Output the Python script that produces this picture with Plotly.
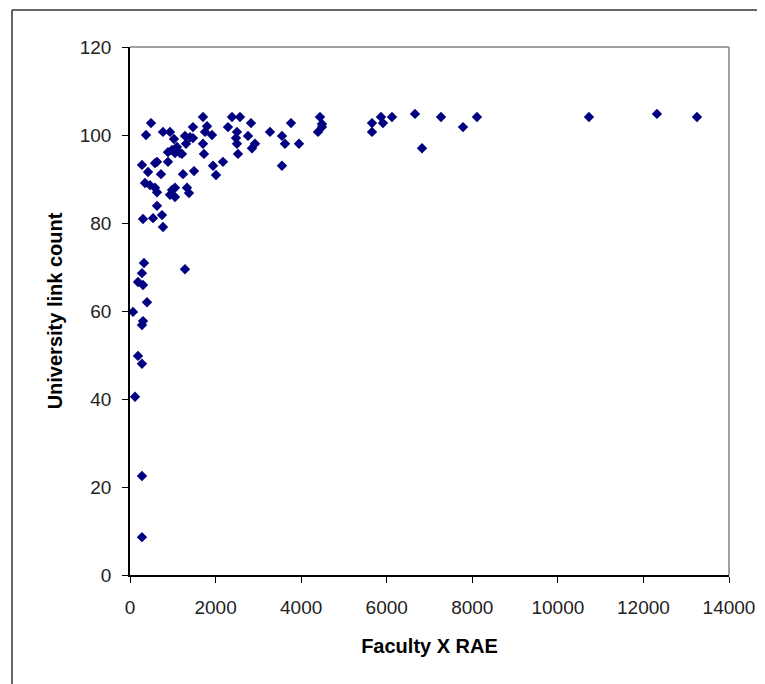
import plotly.graph_objects as go

# Faculty x RAE score vs university link count
faculty_rae = [280, 280, 117, 280, 187, 280, 304, 70, 397, 304,
               187, 280, 327, 1285, 304, 538, 748, 771, 631, 351,
               467, 584, 631, 982, 935, 1052, 1052, 1332, 1379, 280,
               421, 584, 631, 724, 888, 1239, 1496, 888, 982, 1052,
               1098, 1169, 1028, 771, 935, 491, 374, 1285, 1402, 1472,
               1472, 1706, 1800, 1753, 1916, 1309, 1706, 1729, 1940, 2173,
               2010, 2384, 2571, 2290, 2500, 2477, 2500, 2524, 2758, 2828,
               2921, 2851, 3272, 3552, 3622, 3763, 3950, 3552, 4440, 4487,
               4394, 4487, 5656, 5656, 5866, 5913, 6123, 6661, 6825, 7269,
               7783, 8110, 10727, 12316, 13251, 1215]
link_count = [8.6, 22.5, 40.5, 48.0, 49.8, 56.8, 57.7, 59.8, 62.0, 65.9,
              66.6, 68.6, 70.9, 69.5, 80.9, 81.1, 81.8, 79.1, 83.9, 89.1,
              88.6, 88.0, 87.0, 87.5, 86.4, 88.0, 85.9, 88.0, 86.8, 93.2,
              91.6, 93.6, 93.9, 91.1, 93.9, 91.1, 91.8, 96.1, 96.6, 95.9,
              97.3, 95.9, 99.1, 100.7, 100.7, 102.7, 100.0, 99.8, 99.5, 99.3,
              101.8, 104.1, 102.0, 100.7, 100.0, 98.0, 98.0, 95.7, 93.0, 93.9,
              90.9, 104.1, 104.1, 101.8, 100.7, 99.3, 98.0, 95.7, 99.8, 102.7,
              98.0, 97.0, 100.7, 99.8, 98.0, 102.7, 98.0, 93.0, 104.1, 101.8,
              100.7, 102.5, 102.7, 100.7, 104.1, 102.7, 104.1, 104.8, 97.0, 104.1,
              101.8, 104.1, 104.1, 104.8, 104.1, 95.7]

x_ticks = [0, 2000, 4000, 6000, 8000, 10000, 12000, 14000]
x_labels = ['0', '2000', '4000', '6000', '8000', '10000', '12000', '14000']
y_ticks = [0, 20, 40, 60, 80, 100, 120]

fig = go.Figure(go.Scatter(x=faculty_rae, y=link_count,
                           mode='markers',
                           marker=dict(symbol='diamond', size=8,
                                       color='#000080'),
                           cliponaxis=False))

tick_font = dict(family='Liberation Sans', size=19, color='#222222')
title_font = dict(family='Liberation Sans', size=20, color='#000000')

# page body adds an 8px offset, so margins are shifted to compensate
fig.update_layout(
    width=765, height=684,
    margin=dict(l=122, r=44, t=39, b=117),
    paper_bgcolor='white', plot_bgcolor='white',
    showlegend=False,
    xaxis=dict(range=[0, 14000], tickvals=x_ticks, ticktext=x_labels,
               showgrid=False, zeroline=False, showline=True,
               linecolor='black', linewidth=1.5,
               ticks='outside', ticklen=6, tickcolor='black',
               ticklabelstandoff=8, tickfont=tick_font,
               title=dict(text='<b>Faculty X RAE</b>', font=title_font,
                          standoff=22)),
    yaxis=dict(range=[0, 120], tickvals=y_ticks, showgrid=False,
               zeroline=False, showline=True, linecolor='black', linewidth=1.5,
               ticks='outside', ticklen=6, tickcolor='black',
               ticklabelstandoff=7, tickfont=tick_font,
               title=dict(text='<b>University link count</b>', font=title_font,
                          standoff=12)),
)

# grey frame on top and right of plot area
fig.add_shape(type='line', xref='paper', yref='paper', x0=0, y0=1, x1=1, y1=1,
              line=dict(color='#a0a0a0', width=2))
fig.add_shape(type='line', xref='paper', yref='paper', x0=1, y0=1, x1=1, y1=0,
              line=dict(color='#a0a0a0', width=2))
# outer chart border (left and top edges visible)
fig.add_shape(type='line', xref='paper', yref='paper',
              x0=-0.197, y0=1.07, x1=1.1, y1=1.07,
              line=dict(color='#333333', width=1.5))
fig.add_shape(type='line', xref='paper', yref='paper',
              x0=-0.197, y0=1.07, x1=-0.197, y1=-0.3,
              line=dict(color='#333333', width=1.5))

fig.write_html("out.html")
